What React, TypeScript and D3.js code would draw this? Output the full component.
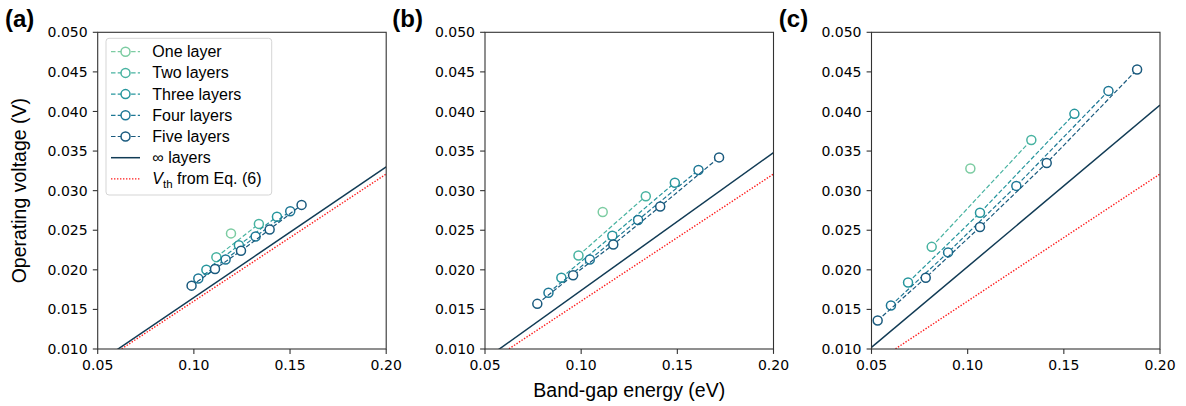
import React from "react";
import * as d3 from "d3";

const W = 1186;
const H = 406;
const PLOT_W = 288.5;
const PLOT_H = 316.7;
const TOP = 32.3;
const LEFTS = [97.7, 485, 871.5];
const PANEL_TAGS = ["(a)", "(b)", "(c)"];

const layerNames = ["One layer", "Two layers", "Three layers", "Four layers", "Five layers"];
const layerColors = ["#7ccca2", "#48b3a1", "#26969d", "#1d7795", "#1a5a7e"];
const infColor = "#113b55";
const vthColor = "#ff1a1a";

const xTicks = [0.05, 0.1, 0.15, 0.2];
const yTicks = [0.01, 0.015, 0.02, 0.025, 0.03, 0.035, 0.04, 0.045, 0.05];

// panel (a)
const energyA = [
  [0.1193],
  [0.1117, 0.1338],
  [0.1065, 0.1234, 0.1432],
  [0.1023, 0.1165, 0.1321, 0.1501],
  [0.0988, 0.111, 0.1245, 0.1394, 0.156],
];
const voltA = [
  [0.0246],
  [0.0216, 0.0258],
  [0.02, 0.0231, 0.0267],
  [0.0189, 0.0213, 0.0242, 0.0274],
  [0.018, 0.0201, 0.0224, 0.0251, 0.0282],
];

// panel (b)
const energyB = [
  [0.1112],
  [0.0986, 0.1336],
  [0.0897, 0.1162, 0.1487],
  [0.083, 0.1045, 0.1296, 0.161],
  [0.0772, 0.0958, 0.1167, 0.1411, 0.1717],
];
const voltB = [
  [0.0273],
  [0.0218, 0.0293],
  [0.019, 0.0243, 0.031],
  [0.0171, 0.0213, 0.0263, 0.0326],
  [0.0157, 0.0193, 0.0232, 0.028, 0.0342],
];

// panel (c)
const energyC = [
  [0.1014],
  [0.0813, 0.1331],
  [0.069, 0.1064, 0.1555],
  [0.0601, 0.0898, 0.1253, 0.1732],
  [0.0532, 0.0782, 0.1064, 0.1411, 0.1881],
];
const voltC = [
  [0.0328],
  [0.0229, 0.0364],
  [0.0184, 0.0272, 0.0397],
  [0.0155, 0.0222, 0.0306, 0.0426],
  [0.0136, 0.019, 0.0254, 0.0335, 0.0453],
];

// infinite layers and threshold lines (through origin)
const lineE = [0, 0.2];
const infVA = [0, 0.033];
const infVB = [0, 0.0348];
const infVC = [0, 0.0408];
const vthV = [0, 0.0321];

const panelEnergy = [energyA, energyB, energyC];
const panelVolt = [voltA, voltB, voltC];
const panelInf = [infVA, infVB, infVC];

const x = d3.scaleLinear().domain([0.05, 0.2]).range([0, PLOT_W]);
const y = d3.scaleLinear().domain([0.01, 0.05]).range([PLOT_H, 0]);
const line = d3
  .line<[number, number]>()
  .x((d) => x(d[0]))
  .y((d) => y(d[1]));

const TICK_FONT = "'DejaVu Sans', sans-serif";
const LABEL_FONT = "'Liberation Sans', Arial, sans-serif";

const Legend = () => {
  const rowY = (i: number) => 51.7 + i * 21.2;
  return (
    <g>
      <rect x={106} y={38.3} width={165.7} height={156.7} rx={3} fill="white" fillOpacity={0.8} stroke="#d5d5d5" />
      {layerNames.map((name, i) => (
        <g key={name}>
          <line x1={111} x2={140} y1={rowY(i)} y2={rowY(i)} stroke={layerColors[i]} strokeWidth={1.2} strokeDasharray="4.5 2.2" />
          <circle cx={125.5} cy={rowY(i)} r={4.5} fill="white" stroke={layerColors[i]} strokeWidth={1.5} />
          <text x={152.3} y={rowY(i) + 5.5} fontFamily={LABEL_FONT} fontSize={16}>
            {name}
          </text>
        </g>
      ))}
      <line x1={111} x2={140} y1={rowY(5)} y2={rowY(5)} stroke={infColor} strokeWidth={1.5} />
      <text x={152.3} y={rowY(5) + 5.5} fontFamily={LABEL_FONT} fontSize={16}>
        ∞ layers
      </text>
      <line x1={111} x2={140} y1={rowY(6)} y2={rowY(6)} stroke={vthColor} strokeWidth={1.4} strokeDasharray="1.4 1.6" />
      <text x={152.3} y={rowY(6) + 5.5} fontFamily={LABEL_FONT} fontSize={16}>
        <tspan fontStyle="italic">V</tspan>
        <tspan fontSize={11.5} dy={4}>th</tspan>
        <tspan dy={-4}> from Eq. (6)</tspan>
      </text>
    </g>
  );
};

const Panel = ({ idx }: { idx: number }) => {
  const left = LEFTS[idx];
  const energy = panelEnergy[idx];
  const volt = panelVolt[idx];
  const clipId = `clip-${idx}`;
  const infPts = lineE.map((e, i) => [e, panelInf[idx][i]] as [number, number]);
  const vthPts = lineE.map((e, i) => [e, vthV[i]] as [number, number]);

  return (
    <g>
      <text x={left - 92.7} y={27} fontFamily={LABEL_FONT} fontWeight="bold" fontSize={24}>
        {PANEL_TAGS[idx]}
      </text>
      <g transform={`translate(${left},${TOP})`}>
        <defs>
          <clipPath id={clipId}>
            <rect x={0} y={0} width={PLOT_W} height={PLOT_H} />
          </clipPath>
        </defs>
        <g clipPath={`url(#${clipId})`}>
          {energy.map((es, s) => {
            const pts = es.map((e, k) => [e, volt[s][k]] as [number, number]);
            return (
              <g key={s}>
                {pts.length > 1 && (
                  <path d={line(pts) || ""} fill="none" stroke={layerColors[s]} strokeWidth={1.2} strokeDasharray="4.5 2.2" />
                )}
                {pts.map((p, k) => (
                  <circle key={k} cx={x(p[0])} cy={y(p[1])} r={4.5} fill="white" stroke={layerColors[s]} strokeWidth={1.5} />
                ))}
              </g>
            );
          })}
          <path d={line(infPts) || ""} fill="none" stroke={infColor} strokeWidth={1.5} />
          <path d={line(vthPts) || ""} fill="none" stroke={vthColor} strokeWidth={1.4} strokeDasharray="1.4 1.6" />
        </g>
        <rect x={0} y={0} width={PLOT_W} height={PLOT_H} fill="none" stroke="#333" strokeWidth={1.1} />
        {xTicks.map((t) => (
          <g key={t} transform={`translate(${x(t)},${PLOT_H})`}>
            <line y1={0} y2={4.9} stroke="#333" strokeWidth={1.1} />
            <text y={21} textAnchor="middle" fontFamily={TICK_FONT} fontSize={14}>
              {d3.format(".2f")(t)}
            </text>
          </g>
        ))}
        {yTicks.map((t) => (
          <g key={t} transform={`translate(0,${y(t)})`}>
            <line x1={0} x2={-4.9} stroke="#333" strokeWidth={1.1} />
            <text x={-10} dy="0.36em" textAnchor="end" fontFamily={TICK_FONT} fontSize={14}>
              {d3.format(".3f")(t)}
            </text>
          </g>
        ))}
      </g>
    </g>
  );
};

export default function App() {
  return (
    <svg width={W} height={H} style={{ position: "absolute", left: 0, top: 0, background: "white" }}>
      {[0, 1, 2].map((i) => (
        <Panel key={i} idx={i} />
      ))}
      <Legend />
      <text
        transform={`translate(26,${TOP + PLOT_H / 2}) rotate(-90)`}
        textAnchor="middle"
        fontFamily={LABEL_FONT}
        fontSize={19.5}
      >
        Operating voltage (V)
      </text>
      <text x={LEFTS[1] + PLOT_W / 2} y={397} textAnchor="middle" fontFamily={LABEL_FONT} fontSize={19.5}>
        Band-gap energy (eV)
      </text>
    </svg>
  );
}
